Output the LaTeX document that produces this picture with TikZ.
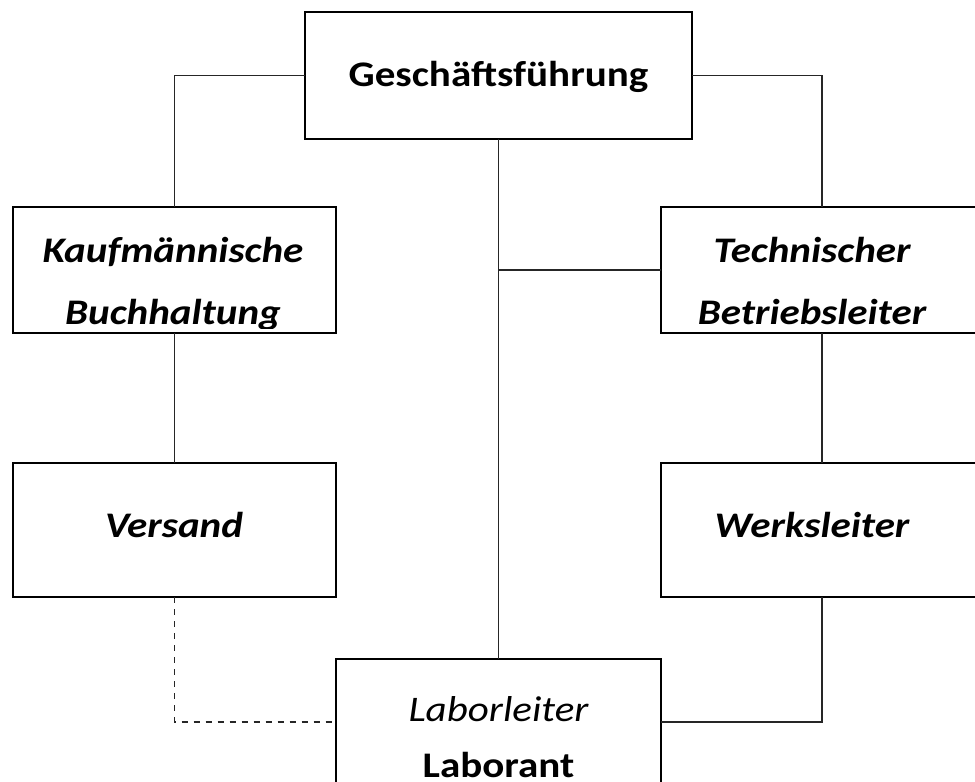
\documentclass[tikz,border=0pt]{standalone}
\usepackage{fontspec}
\setmainfont{Carlito}[FakeStretch=1.14]
\begin{document}
\begin{tikzpicture}[x=0.5pt,y=-0.5pt,
  box/.style={draw, line width=0.8pt, inner sep=0pt, outer sep=0pt},
  conn/.style={line width=0.6pt, black!85},
  lbl/.style={font=\fontsize{18}{18}\selectfont\bfseries\itshape, anchor=base, inner sep=0pt},
  lblup/.style={font=\fontsize{18}{18}\selectfont\bfseries, anchor=base, inner sep=0pt},
  lblit/.style={font=\fontsize{18}{18}\selectfont\itshape, anchor=base, inner sep=0pt}]
\useasboundingbox (0,0) rectangle (975,782);
\fill[white] (0,0) rectangle (975,782);
% boxes
\node[box, minimum width=193.5pt, minimum height=63.5pt] (gf) at (498.5,75.5) {};
\node[box, minimum width=161.5pt, minimum height=63pt] (kb) at (174.5,270) {};
\node[box, minimum width=161pt, minimum height=63pt] (tb) at (822,270) {};
\node[box, minimum width=161.5pt, minimum height=67pt] (vs) at (174.5,530) {};
\node[box, minimum width=161pt, minimum height=67pt] (wl) at (822,530) {};
\node[box, minimum width=162.5pt, minimum height=63pt] (lab) at (498.5,722) {};
% connectors
\draw[conn] (gf.west) -| (kb.north);
\draw[conn] (gf.east) -| (tb.north);
\draw[conn] (gf.south) -- (lab.north);
\draw[conn] (tb.west) -- (tb.west -| gf.south);
\draw[conn] (kb.south) -- (vs.north);
\draw[conn] (tb.south) -- (wl.north);
\draw[conn, dashed] (vs.south) |- (lab.west);
\draw[conn] (wl.south) |- (lab.east);
% texts
\node[lblup] (t1) at (498.5,86) {Geschäftsführung};
\node[lbl] (t2) at (173,262) {Kaufmännische};
\begin{scope}
\clip (13,207) rectangle (336,328);
\node[lbl] (t3) at (173,324) {Buchhaltung};
\end{scope}
\node[lbl] (t4) at (812,262) {Technischer};
\node[lbl] (t5) at (812,324) {Betriebsleiter};
\node[lbl] (t6) at (174,537) {Versand};
\node[lbl] (t7) at (812,537) {Werksleiter};
\node[lblit] (t8) at (498.5,721) {Laborleiter};
\node[lblup] (t9) at (498.5,777) {Laborant};
\end{tikzpicture}
\end{document}
